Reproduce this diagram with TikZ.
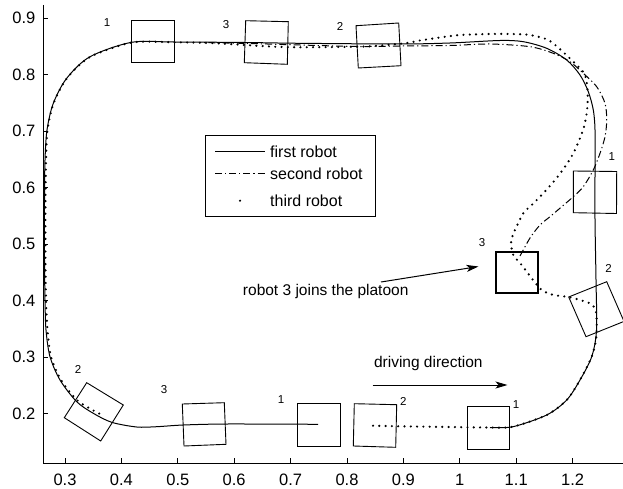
\documentclass[tikz,border=0pt]{standalone}
\usepackage{fontspec}
\setmainfont{Liberation Sans}
\usetikzlibrary{arrows.meta}
\begin{document}
\begin{tikzpicture}[x=1pt,y=-1pt,
  axisline/.style={line width=0.9pt},
  traj1/.style={line width=1pt},
  traj2/.style={line width=1pt, dash pattern=on 7pt off 3pt on 1.2pt off 3pt},
  traj3/.style={line width=2.4pt, line cap=round, dash pattern=on 0pt off 6.3pt},
  robotbox/.style={line width=0.9pt, line join=miter},
  joinbox/.style={line width=1.7pt},
  idlabel/.style={font=\fontsize{11.5}{12}\selectfont, inner sep=0pt},
  ticklabel/.style={font=\fontsize{16.5}{18}\selectfont, inner sep=0pt},
  annot/.style={font=\fontsize{15.5}{18}\selectfont, inner sep=0pt},
  pointer/.style={line width=1pt, -{Stealth[length=12pt, width=7pt, inset=3pt]}}]
\useasboundingbox (0,0) rectangle (623,489);

% axes with inward ticks
\draw[axisline] (43,5) -- (43,463) -- (623,463);
\foreach \lab [count=\k from 0] in {0.3,0.4,0.5,0.6,0.7,0.8,0.9,1,1.1,1.2} {
  \pgfmathsetmacro\xx{65+56.4*\k}
  \draw[axisline] (\xx,463) -- (\xx,458);
  \node[ticklabel] (xt\k) at (\xx,479.5) {\lab};
}
\foreach \lab [count=\k from 0] in {0.2,0.3,0.4,0.5,0.6,0.7,0.8,0.9} {
  \pgfmathsetmacro\yy{413.7-56.5*\k}
  \draw[axisline] (43,\yy) -- (48,\yy);
  \node[ticklabel, anchor=east] (yt\k) at (35.5,\yy) {\lab};
}

% first robot (solid)
\draw[traj1] plot[smooth, tension=0.5] coordinates {
  (490,427.5) (513,426.7) (546.7,415) (566.7,400) (580,380) (591.7,356.7)
  (596.5,330) (596,280) (595,220) (595,170) (595,130) (593.3,110)
  (588.3,91.7) (580,75) (566.7,60) (546.7,48.3) (523.3,41.7) (500,40.5)
  (450,43) (400,44) (300,43.3) (245,42.5) (174,42) (131.7,42.3)
  (90,56.7) (66.7,78.3) (53.3,103.3) (47,130) (45,160) (44.5,200)
  (44.5,260) (45,300) (46,330) (50,356.7) (60,380) (76.7,401.7)
  (93.3,413.3) (111.7,422.3) (136.7,427) (156.7,426.7) (183.3,425)
  (226.7,424) (318,424.3)};

% second robot (dash-dot)
\draw[traj2] plot[smooth, tension=0.5] coordinates {
  (520,256) (530,238) (540,225) (550,216.7) (561.7,206.7) (573.3,196.7)
  (583.3,186.7) (593.3,170) (600,153.3) (605,136.7) (606.7,120)
  (605,103.3) (596.7,86.7) (583.3,73.3) (570,61.7) (553.3,53.3)
  (530,46.7) (490,44) (450,45.5) (400,46) (360,46.5) (300,45)
  (250,43.5) (200,42.5)};

% third robot (dots)
\draw[traj3] plot[smooth, tension=0.45] coordinates {
  (373,425.7) (400,426.3) (450,427) (490,427.5) (513,426.7) (546.7,415)
  (566.7,400) (580,380) (591.7,356.7) (596,340) (596.7,325) (596,312)
  (591.7,304.3) (580,300) (566.7,296.7) (553.3,295) (541.7,290)
  (531.7,278.3) (521.7,265) (513.3,255) (511,243.3) (512.3,236.7)
  (515,230) (523.3,213.3) (531.7,205) (543.3,193.3) (555,180)
  (565,166.7) (573.3,153.3) (579.3,140) (584,126.7) (586.7,113.3)
  (587.7,100) (587.3,86.7) (585,75) (580,68.3) (573.3,61.7) (561.7,50.7)
  (548.3,40) (530,35) (510,34) (490,34) (460,35) (440,37.5) (420,40.5)
  (407,43) (380,45.5) (360,46.7) (300,47.3) (270,46.5) (245,45)
  (210,43) (174,42.3) (131.7,42.5) (90,57) (66.7,78.5) (53.5,103.5)
  (47.5,130) (46,160) (45.5,200) (45.5,260) (46,300) (47.5,330)
  (51,356.7) (61,380) (78,401) (100,414)};

% robot outlines
\draw[robotbox] (131.7,20) rectangle (174,62.3);
\draw[robotbox] (245.7,20.7) -- (288.3,21.7) -- (287.3,64.3) -- (244.3,62.7) -- cycle;
\draw[robotbox] (356,25.7) -- (398.7,23) -- (401,65.7) -- (358.3,68) -- cycle;
\draw[robotbox] (573.3,171) -- (616.7,171.5) -- (616.5,213.5) -- (573.3,212.7) -- cycle;
\draw[joinbox] (495.7,251.7) rectangle (538.3,293.3);
\draw[robotbox] (568.7,297) -- (606.7,281.7) -- (624,321.4) -- (586,336.7) -- cycle;
\draw[robotbox] (86.7,382.7) -- (123.3,405) -- (100.7,441) -- (64.3,417.7) -- cycle;
\draw[robotbox] (182.3,404) -- (224.3,402.7) -- (226,444.3) -- (184,446) -- cycle;
\draw[robotbox] (297.7,403.5) rectangle (340,446);
\draw[robotbox] (354.3,403.7) -- (396.7,404.7) -- (395.7,447.3) -- (353.3,446) -- cycle;
\draw[robotbox] (467.3,406.7) rectangle (509.3,449);

% robot numbers
\node[idlabel] (n1) at (107,22.5) {1};
\node[idlabel] (n2) at (226,25) {3};
\node[idlabel] (n3) at (340,26.7) {2};
\node[idlabel] (n4) at (611.7,157) {1};
\node[idlabel] (n5) at (482,243) {3};
\node[idlabel] (n6) at (608.5,268.3) {2};
\node[idlabel] (n7) at (78,369.3) {2};
\node[idlabel] (n8) at (164,390) {3};
\node[idlabel] (n9) at (281,399.3) {1};
\node[idlabel] (n10) at (403.3,401.7) {2};
\node[idlabel] (n11) at (516,404.3) {1};

% legend
\draw[line width=0.9pt, fill=white] (205,135) rectangle (375,216);
\coordinate (la) at (215,151.7); \coordinate (lb) at (265,151.7);
\coordinate (lc) at (215,173.3); \coordinate (ld) at (265,173.3);
\draw[traj1] (la) -- (lb);
\draw[traj2] (lc) -- (ld);
\fill (240,200.7) circle (1.2pt);
\node[annot, anchor=west, font=\fontsize{16}{18}\selectfont] (lg1) at (270,151.7) {first robot};
\node[annot, anchor=west, font=\fontsize{16}{18}\selectfont] (lg2) at (270,173.3) {second robot};
\node[annot, anchor=west, font=\fontsize{16}{18}\selectfont] (lg3) at (270,200.7) {third robot};

% annotations
\node[annot] (joins) at (325.7,291.7) {robot 3 joins the platoon};
\coordinate (joinTail) at (381,282);
\coordinate (joinHead) at (478.5,266.5);
\draw[pointer] (joinTail) -- (joinHead);
\node[annot] (drive) at (428.3,363.3) {driving direction};
\coordinate (driveTail) at (372.7,385);
\coordinate (driveHead) at (507.5,385);
\draw[pointer] (driveTail) -- (driveHead);
\end{tikzpicture}
\end{document}
